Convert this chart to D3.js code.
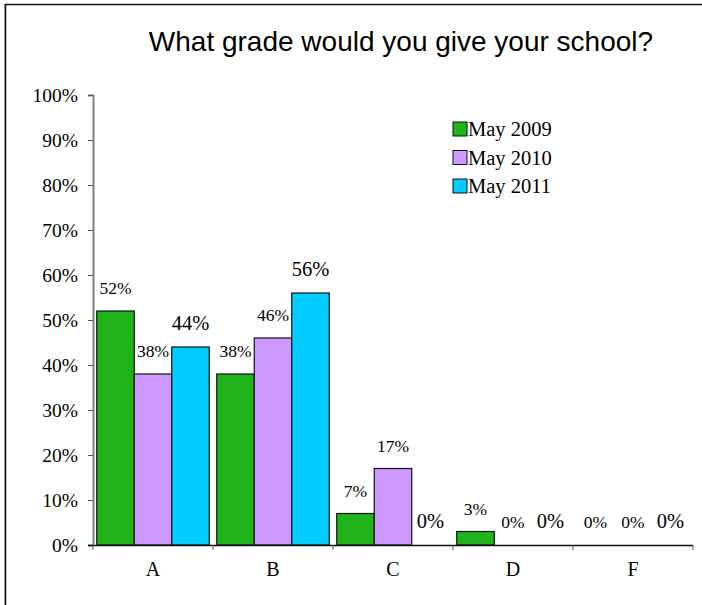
<!DOCTYPE html>
<html>
<head>
<meta charset="utf-8">
<script src="https://cdn.jsdelivr.net/npm/d3@7"></script>
<style>
  body { margin: 0; background: #fff; }
  svg { display: block; }
</style>
</head>
<body>
<svg id="chart"></svg>
<script>
const grades = ["A", "B", "C", "D", "F"];
const seriesNames = ["May 2009", "May 2010", "May 2011"];
const may2009 = [52, 38, 7, 3, 0];
const may2010 = [38, 46, 17, 0, 0];
const may2011 = [44, 56, 0, 0, 0];
const yTicks = [0, 10, 20, 30, 40, 50, 60, 70, 80, 90, 100];

const colors = ["#20b41a", "#cc99ff", "#00ccff"];
const allSeries = [may2009, may2010, may2011];
const SERIF = '"Liberation Serif", "Times New Roman", serif';

const W = 702, H = 605;
const M = { top: 95, right: 9, bottom: 60, left: 93 };
const IW = W - M.left - M.right;
const IH = H - M.top - M.bottom;

const svg = d3.select("#chart").attr("width", W).attr("height", H);

// outer frame (top and left edges only are visible)
svg.append("line").attr("x1", 4.5).attr("x2", 4.5).attr("y1", 4).attr("y2", H)
  .attr("stroke", "#bbb").attr("stroke-width", 1);
svg.append("line").attr("x1", 5.5).attr("x2", 5.5).attr("y1", 4).attr("y2", H)
  .attr("stroke", "#111").attr("stroke-width", 1.5);
svg.append("line").attr("x1", 5).attr("x2", W).attr("y1", 4.5).attr("y2", 4.5)
  .attr("stroke", "#111").attr("stroke-width", 1.5);

svg.append("text")
  .attr("x", 401).attr("y", 51)
  .attr("text-anchor", "middle")
  .style("font-family", '"Liberation Sans", Arial, sans-serif')
  .style("font-size", "28px")
  .attr("fill", "#000")
  .text("What grade would you give your school?");

const g = svg.append("g").attr("transform", `translate(${M.left},${M.top})`);

const x0 = d3.scaleBand().domain(grades).range([0, IW]).paddingInner(0).paddingOuter(0);
const x1 = d3.scaleBand().domain(d3.range(3)).range([0, x0.bandwidth()]).paddingOuter(0.1);
const y = d3.scaleLinear().domain([0, 100]).range([IH, 0]);

// y axis
g.append("g")
  .call(d3.axisLeft(y).tickValues(yTicks).tickSize(5).tickPadding(10).tickFormat(d => d + "%"))
  .call(a => a.attr("font-family", null).attr("font-size", null))
  .call(a => a.select(".domain").attr("stroke", "#808080").attr("stroke-width", 2))
  .call(a => a.selectAll(".tick line").attr("stroke", "#555"))
  .call(a => a.selectAll("text")
    .style("font-family", SERIF)
    .style("font-size", "19.5px").attr("fill", "#000"));

// bars
const rows = [];
grades.forEach((gr, i) => allSeries.forEach((s, k) => rows.push({ grade: gr, k, v: s[i] })));

g.selectAll(".bar")
  .data(rows.filter(d => d.v > 0))
  .enter().append("rect")
  .attr("class", "bar")
  .attr("x", d => x0(d.grade) + x1(d.k))
  .attr("y", d => y(d.v))
  .attr("width", x1.bandwidth())
  .attr("height", d => IH - y(d.v))
  .attr("fill", d => colors[d.k])
  .attr("stroke", "#111")
  .attr("stroke-width", 1.2);

// value labels
g.selectAll(".lbl")
  .data(rows)
  .enter().append("text")
  .attr("class", "lbl")
  .attr("x", d => x0(d.grade) + x1(d.k) + x1.bandwidth() / 2)
  .attr("y", d => y(d.v) - 17)
  .attr("text-anchor", "middle")
  .style("font-family", SERIF)
  .style("font-size", d => d.k === 2 ? "20.5px" : "17.5px")
  .attr("fill", "#000")
  .text(d => d.v + "%");

// x axis
g.append("g")
  .attr("transform", `translate(0,${IH})`)
  .call(d3.axisBottom(x0).tickSize(0).tickPadding(17))
  .call(a => a.attr("font-family", null).attr("font-size", null))
  .call(a => a.select(".domain").remove())
  .call(a => a.selectAll("text")
    .style("font-family", SERIF)
    .style("font-size", "20px").attr("fill", "#000"));

g.append("line").attr("x1", -5).attr("x2", IW).attr("y1", IH + 0.5).attr("y2", IH + 0.5)
  .attr("stroke", "#111").attr("stroke-width", 1.5);

g.selectAll(".xtick")
  .data(grades.map(d => x0(d)).concat([IW]))
  .enter().append("line")
  .attr("class", "xtick")
  .attr("x1", d => d).attr("x2", d => d)
  .attr("y1", IH).attr("y2", IH + 5)
  .attr("stroke", "#555");

// legend
const legend = svg.append("g").attr("transform", "translate(453,122)");
seriesNames.forEach((name, k) => {
  const row = legend.append("g").attr("transform", `translate(0,${k * 28.5})`);
  row.append("rect").attr("width", 14).attr("height", 14)
    .attr("fill", colors[k]).attr("stroke", "#111").attr("stroke-width", 1);
  row.append("text").attr("x", 15).attr("y", 14)
    .style("font-family", SERIF)
    .style("font-size", "20.5px").attr("fill", "#000")
    .text(name);
});
</script>
</body>
</html>
